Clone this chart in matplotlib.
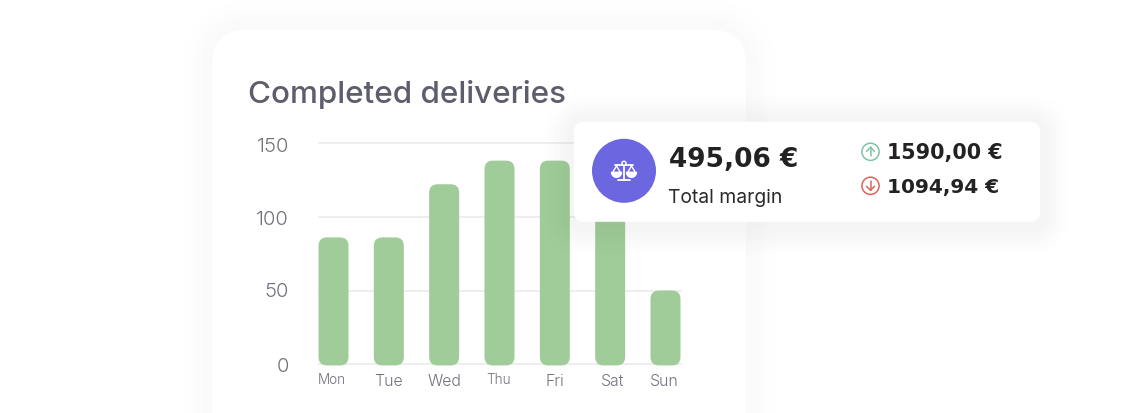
import numpy as np
import matplotlib
matplotlib.use("Agg")
import matplotlib.pyplot as plt
from matplotlib.patches import FancyBboxPatch, Circle
from matplotlib.transforms import ScaledTranslation

days = ["Mon", "Tue", "Wed", "Thu", "Fri", "Sat", "Sun"]
deliveries = [86, 86, 122, 138, 138, 138, 50]
y_ticks = [0, 50, 100, 150]
title = "Completed deliveries"
margin_value = "495,06 €"
margin_label = "Total margin"
income_value = "1590,00 €"
expense_value = "1094,94 €"

W, H = 1141, 414
SHIFT = 0.8
plt.rcParams["font.family"] = ["Inter", "DejaVu Sans"]
fig = plt.figure(figsize=(W / 100, H / 100), dpi=100, facecolor="white")


def layer(z):
    a = fig.add_axes([0, 0, 1, 1], zorder=z)
    a.set_xlim(0, W)
    a.set_ylim(H - SHIFT, -SHIFT)
    a.axis("off")
    a.patch.set_alpha(0)
    return a


def shadow(a, x0, y0, x1, y1, r, strength, spread, dy=0):
    xx, yy = np.meshgrid(np.arange(W) + .5, np.arange(H) + .5)
    cx, cy = (x0 + x1) / 2, (y0 + y1) / 2 + dy
    qx = np.abs(xx - cx) - ((x1 - x0) / 2 - r)
    qy = np.abs(yy - cy) - ((y1 - y0) / 2 - r)
    d = np.hypot(np.maximum(qx, 0), np.maximum(qy, 0)) + np.minimum(np.maximum(qx, qy), 0) - r
    alpha = strength * np.exp(-(np.maximum(d, 0) / spread) ** 2)
    img = np.zeros((H, W, 4))
    img[..., :3] = 0.1
    img[..., 3] = alpha
    a.imshow(img, extent=(0, W, H, 0), interpolation="nearest", aspect="auto", zorder=1)
    a.set_xlim(0, W)
    a.set_ylim(H - SHIFT, -SHIFT)


def rbox(a, x0, y0, x1, y1, r, z=2):
    a.add_patch(FancyBboxPatch((x0 + r, y0 + r), x1 - x0 - 2 * r, y1 - y0 - 2 * r,
                               boxstyle=f"round,pad={r},rounding_size={r}",
                               fc="white", ec="none", zorder=z))


def nudge(label, dx_px=0, dy_px=0):
    label.set_transform(label.get_transform() +
                        ScaledTranslation(dx_px / 100, dy_px / 100, fig.dpi_scale_trans))


# card behind the chart
bg = layer(0)
shadow(bg, 212, 30, 746, 560, 35, 0.022, 22)
rbox(bg, 212, 30, 746, 560, 35)
bg.text(248, 102, title, fontsize=22.6, color="#5D5D6C", fontweight=500, zorder=3,
        va="baseline", ha="left")

# chart
L, R, T, B = 318, 680, 143, 364.5
ax = fig.add_axes([(L + 0.5) / W, 1 - (B + 0.9) / H, (R - L) / W, (B - T) / H], zorder=1)
ax.patch.set_alpha(0)
step = 55.33
ax.set_ylim(0, 150)
bars = ax.bar(days, deliveries, width=30 / step, color="none", linewidth=0, zorder=3)
ax.set_xlim(-15 / step, 6 + 15 / step)
y_px = (B - T) / 150
aspect = step / y_px
rad = 8.5 / step
for b in bars:
    x, w, h = b.get_x(), b.get_width(), b.get_height()
    bottom = -0.7
    ax.add_patch(FancyBboxPatch((x + rad, bottom + rad * aspect), w - 2 * rad,
                                h - bottom - 2 * rad * aspect,
                                boxstyle=f"round,pad={rad},rounding_size={rad}",
                                mutation_aspect=aspect, fc="#9FCC98", ec="none",
                                zorder=3, clip_on=False))
for s in ax.spines.values():
    s.set_visible(False)
ax.set_yticks(y_ticks)
ax.set_yticklabels([str(v) for v in y_ticks], fontsize=14.6, color="#72727E", fontweight=300)
ax.tick_params(axis="y", length=0, pad=21.4)
for lab, dy in zip(ax.get_yticklabels(), (0, 2, 0, -1)):
    nudge(lab, 0, dy)
ax.yaxis.grid(True, color="#EDEDED", linewidth=1.3, zorder=0, clip_on=False)
ax.set_axisbelow(True)
ax.tick_params(axis="x", length=0)
small = {"Mon", "Thu"}
x_nudge = {"Mon": -1.5, "Wed": 0.5, "Thu": -1, "Fri": 0.5, "Sat": 2, "Sun": -1}
for tick, name in zip(ax.xaxis.get_major_ticks(), days):
    tick.label1.set_color("#72727E")
    tick.label1.set_fontweight(300)
    tick.label1.set_fontsize(9.8 if name in small else 11.4)
    tick.set_pad(5.2 if name in small else 6.2)
    nudge(tick.label1, x_nudge.get(name, 0), 0)

# tooltip
top = layer(2)
shadow(top, 574, 122, 1040, 222, 10, 0.045, 20, dy=4)
rbox(top, 574, 122, 1040, 222, 10)
top.add_patch(Circle((624, 171), 32, fc="#6C66E0", ec="none", zorder=3))

# balance icon
wc = dict(color="white", lw=1.3, zorder=4, solid_capstyle="round")
top.plot([624, 624], [164, 180], **wc)
top.plot([618, 630], [180.5, 180.5], **wc)
top.plot([615, 633], [165.5, 165.5], **wc)
top.add_patch(Circle((624, 163.5), 2, fc="#6C66E0", ec="white", lw=1.1, zorder=5))
for cx in (616.5, 631.5):
    top.plot([cx - 4, cx, cx + 4], [173, 166, 173], color="white", lw=1, zorder=4)
    t = np.linspace(0, np.pi, 30)
    top.fill(cx + 5 * np.cos(t), 172.5 + 5 * np.sin(t), color="white", zorder=4)

# arrow icons
for cy, col, up in ((152, "#7EC5A6", True), (186, "#D8665C", False)):
    top.add_patch(Circle((870.5, cy), 8.6, fc="none", ec=col, lw=1.1, zorder=4))
    s = -1 if up else 1
    k = dict(color=col, lw=1.1, zorder=4, solid_capstyle="round")
    top.plot([870.5, 870.5], [cy - 4.5 * s, cy + 4.5 * s], **k)
    top.plot([866.5, 870.5, 874.5], [cy + 0.5 * s, cy + 4.5 * s, cy + 0.5 * s], **k)

bold = dict(family=["DejaVu Sans"], fontweight="bold", color="#222222", zorder=4,
            va="baseline", ha="left")
top.text(669, 166, margin_value, fontsize=19, **bold)
top.text(887, 158.5, income_value, fontsize=14.9, **bold)
top.text(887, 192.5, expense_value, fontsize=14.5, **bold)
top.text(668.5, 202, margin_label, fontsize=13.9, color="#2A2A2A", zorder=4, va="baseline", ha="left")

fig.savefig("out.png", dpi=100, facecolor="white")
